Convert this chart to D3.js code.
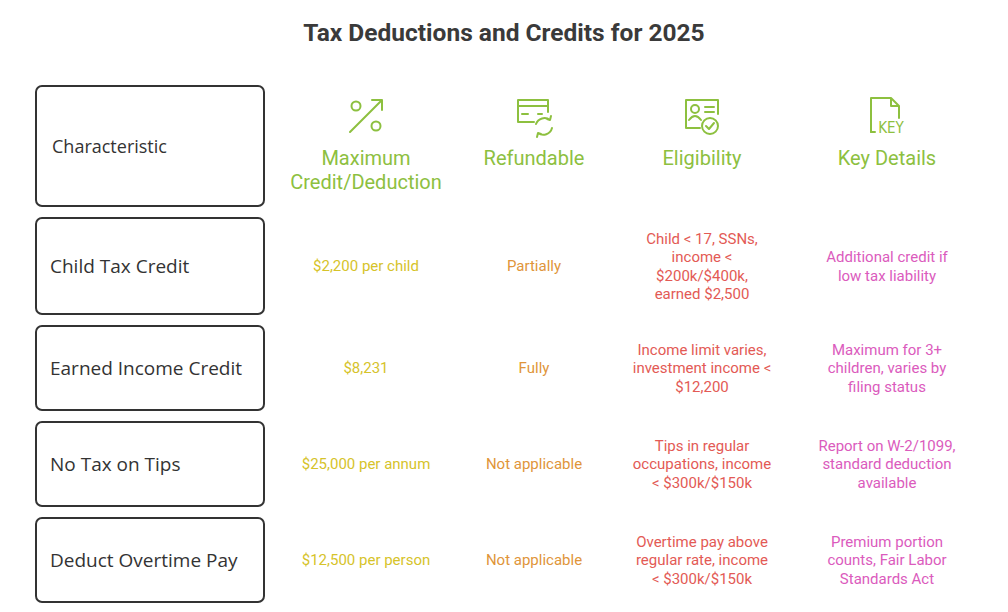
<!DOCTYPE html>
<html><head><meta charset="utf-8">
<script src="https://cdn.jsdelivr.net/npm/d3@7"></script>
<style>body{margin:0;background:#fff}</style>
</head><body><svg id="c" width="1008" height="612"></svg>
<script>
// table content
const columns = ['Maximum\nCredit/Deduction', 'Refundable', 'Eligibility', 'Key Details'];
const rowLabels = ['Child Tax Credit', 'Earned Income Credit', 'No Tax on Tips', 'Deduct Overtime Pay'];
const maxCredit = ['$2,200 per child', '$8,231', '$25,000 per annum', '$12,500 per person'];
const refundable = ['Partially', 'Fully', 'Not applicable', 'Not applicable'];
const eligibility = [
  'Child < 17, SSNs,\nincome <\n$200k/$400k,\nearned $2,500',
  'Income limit varies,\ninvestment income <\n$12,200',
  'Tips in regular\noccupations, income\n< $300k/$150k',
  'Overtime pay above\nregular rate, income\n< $300k/$150k'
];
const keyDetails = [
  'Additional credit if\nlow tax liability',
  'Maximum for 3+\nchildren, varies by\nfiling status',
  'Report on W-2/1099,\nstandard deduction\navailable',
  'Premium portion\ncounts, Fair Labor\nStandards Act'
];
const colColors = ['#d6c32a', '#e0953a', '#e35a55', '#db5bbd'];
const green = '#8dc03f';

const svg = d3.select('#c');
svg.append('text').attr('x', 504).attr('y', 41).attr('text-anchor', 'middle')
  .attr('font-family', 'Roboto').attr('font-weight', 'bold').attr('font-size', 24.5)
  .attr('fill', '#3a3a3a').text('Tax Deductions and Credits for 2025');

// rows: header + 4 body rows
const rowTops = [86, 218, 326, 422, 518];
const rowH = [120, 96, 84, 84, 84];
const colX = [366, 534, 702, 887];

const allRows = ['Characteristic'].concat(rowLabels);
allRows.forEach((lab, i) => {
  svg.append('rect').attr('x', 36).attr('y', rowTops[i]).attr('width', 228).attr('height', rowH[i])
    .attr('rx', 6).attr('fill', '#fff').attr('stroke', '#333').attr('stroke-width', 2);
  svg.append('text').attr('x', i === 0 ? 52 : 50).attr('y', rowTops[i] + rowH[i] / 2 + 7)
    .attr('font-family', 'Open Sans').attr('font-size', i === 0 ? 18 : 19).attr('fill', '#333').text(lab);
});

function multi(g, str, cx, cy, size, color, lh) {
  const lines = str.split('\n');
  const t = g.append('text').attr('text-anchor', 'middle').attr('font-family', 'Roboto')
    .attr('font-size', size).attr('fill', color);
  lines.forEach((l, k) => t.append('tspan').attr('x', cx)
    .attr('y', cy + (k - (lines.length - 1) / 2) * lh + size * 0.35).text(l));
}

// header texts
columns.forEach((c, j) => {
  const t = svg.append('text').attr('text-anchor', 'middle').attr('font-family', 'Roboto')
    .attr('font-size', 20).attr('fill', green);
  c.split('\n').forEach((l, k) => t.append('tspan').attr('x', colX[j]).attr('y', 165 + k * 24).text(l));
});

// icons
const ic = svg.append('g').attr('fill', 'none').attr('stroke', green).attr('stroke-width', 2)
  .attr('stroke-linecap', 'round').attr('stroke-linejoin', 'round');
// percent
let g = ic.append('g').attr('transform', `translate(${colX[0]},116)`);
g.append('circle').attr('cx', -10).attr('cy', -10).attr('r', 4.5);
g.append('circle').attr('cx', 10).attr('cy', 10).attr('r', 4.5);
g.append('path').attr('d', 'M-16,16 L16,-16 M6,-16 L16,-16 L16,-6');
// card with arrows
g = ic.append('g').attr('transform', `translate(${colX[1]},116)`);
g.append('path').attr('d', 'M0,6 L-16,6 L-16,-16 L14,-16 L14,-4');
g.append('path').attr('d', 'M-16,-10 L14,-10 M-12,-2 L-6,-2 M4,-2 L8,-2');
g.append('path').attr('d', 'M2,8 A9,9 0 0 1 16,4 M18,12 A9,9 0 0 1 4,17 M13,3 L16,4 L17,0 M7,18 L4,17 L3,21');
// id card with check
g = ic.append('g').attr('transform', `translate(${colX[2]},116)`);
g.append('path').attr('d', 'M-2,12 L-16,12 L-16,-16 L16,-16 L16,-2');
g.append('circle').attr('cx', -7).attr('cy', -7).attr('r', 4);
g.append('path').attr('d', 'M-13,4 Q-7,-4 -1,4 M3,-9 L12,-9 M3,-4 L12,-4');
g.append('circle').attr('cx', 8).attr('cy', 10).attr('r', 8);
g.append('path').attr('d', 'M4,10 L7,13 L12,7');
// document KEY
g = ic.append('g').attr('transform', `translate(${colX[3]},116)`);
g.append('path').attr('d', 'M-16,16 L-16,-18 L4,-18 L12,-10 L12,2 M4,-18 L4,-10 L12,-10');
g.append('path').attr('d', 'M-16,16 L-12,16');
svg.append('text').attr('x', colX[3] + 4).attr('y', 133).attr('text-anchor', 'middle')
  .attr('font-family', 'DejaVu Sans Condensed').attr('font-size', 15).attr('fill', green).text('KEY');

// body cells
const cols = [maxCredit, refundable, eligibility, keyDetails];
rowLabels.forEach((r, i) => {
  const cy = rowTops[i + 1] + rowH[i + 1] / 2;
  cols.forEach((arr, j) => multi(svg, arr[i], colX[j], cy, 15, colColors[j], 18.5));
});
</script></body></html>
